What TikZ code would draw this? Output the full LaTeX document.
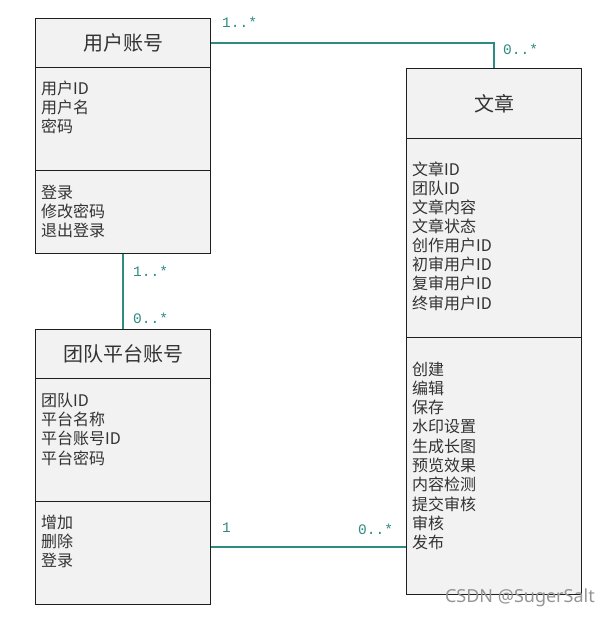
\documentclass[tikz,border=0pt]{standalone}
\usepackage{fontspec}
\setmainfont{Noto Sans CJK SC}
\newfontfamily\lblfont{Liberation Mono}
\newfontfamily\wmfont{Noto Sans}
\definecolor{conncol}{HTML}{2F8B82}
\definecolor{boxfill}{HTML}{F2F2F2}
\definecolor{boxline}{HTML}{1E1E1E}
\definecolor{wmcol}{HTML}{959595}
\begin{document}
\begin{tikzpicture}[x=1pt,y=-1pt,
  comp/.style={draw=boxline, fill=boxfill, line width=1.1pt, anchor=north west, inner sep=0pt},
  ttl/.style={font=\fontsize{20}{24}\selectfont, text=black!80},
  row/.style={anchor=west, inner sep=0pt, font=\fontsize{16}{19}\selectfont, text height=13pt, text depth=1pt, text=black!80},
  conn/.style={draw=conncol, line width=1.2pt},
  mult/.style={anchor=west, inner sep=0pt, font=\lblfont\fontsize{14.5}{16}\selectfont, text=conncol}]
\useasboundingbox (0,0) rectangle (610,619);
\fill[white] (0,0) rectangle (610,619);

% 用户账号
\node[comp, minimum width=175pt, minimum height=49pt] (u1) at (35,18) {};
\node[ttl] (u1t) at (u1.center) {用户账号};
\node[comp, minimum width=175pt, minimum height=103pt] (u2) at (35,67) {};
\node[comp, minimum width=175pt, minimum height=83pt] (u3) at (35,170) {};
\foreach \t [count=\i] in {用户ID,用户名,密码}
  \node[row] (ua\i) at (41,{88+19.4*(\i-1)}) {\t};
\foreach \t [count=\i] in {登录,修改密码,退出登录}
  \node[row] (um\i) at (41,{192+19.4*(\i-1)}) {\t};

% 团队平台账号
\node[comp, minimum width=175pt, minimum height=49pt] (t1) at (35,329) {};
\node[ttl] (t1t) at (t1.center) {团队平台账号};
\node[comp, minimum width=175pt, minimum height=123pt] (t2) at (35,378) {};
\node[comp, minimum width=175pt, minimum height=103pt] (t3) at (35,501) {};
\foreach \t [count=\i] in {团队ID,平台名称,平台账号ID,平台密码}
  \node[row] (ta\i) at (41,{400+19.4*(\i-1)}) {\t};
\foreach \t [count=\i] in {增加,删除,登录}
  \node[row] (tm\i) at (41,{522+19.4*(\i-1)}) {\t};

% 文章
\node[comp, minimum width=175pt, minimum height=70pt] (w1) at (406,68) {};
\node[ttl] (w1t) at (w1.center) {文章};
\node[comp, minimum width=175pt, minimum height=199pt] (w2) at (406,138) {};
\node[comp, minimum width=175pt, minimum height=257pt] (w3) at (406,337) {};
\foreach \t [count=\i] in {文章ID,团队ID,文章内容,文章状态,创作用户ID,初审用户ID,复审用户ID,终审用户ID}
  \node[row] (wa\i) at (412,{169+19.15*(\i-1)}) {\t};
\foreach \t [count=\i] in {创建,编辑,保存,水印设置,生成长图,预览效果,内容检测,提交审核,审核,发布}
  \node[row] (wm\i) at (412,{369+19.33*(\i-1)}) {\t};

% connectors
\coordinate (hy) at (0,547);
\draw[conn] (u1.east) -| (w1.north);
\draw[conn] (u3.south) -- (t1.north);
\draw[conn] (t3.east |- hy) -- (w3.west |- hy);

% multiplicities
\node[mult] (m1) at (222,22) {1..*};
\node[mult] (m2) at (503,49) {0..*};
\node[mult] (m3) at (133,271) {1..*};
\node[mult] (m4) at (133,318) {0..*};
\node[mult] (m5) at (222,528) {1};
\node[mult] (m6) at (358,529) {0..*};

% watermark
\node[anchor=east, inner sep=0pt, font=\wmfont\fontsize{18}{20}\selectfont, text=wmcol] (wm) at (595,598) {CSDN @SugerSalt};
\end{tikzpicture}
\end{document}
